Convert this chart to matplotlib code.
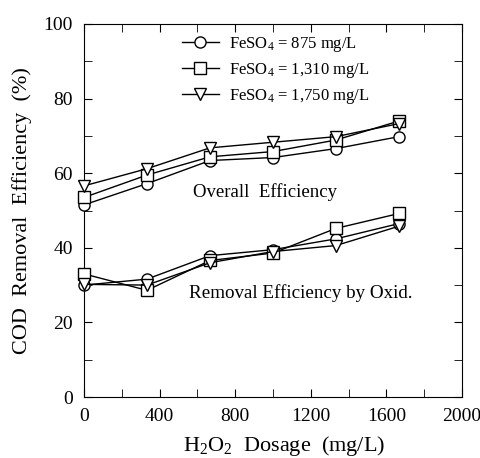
import matplotlib
matplotlib.use('Agg')
import matplotlib.pyplot as plt
from matplotlib.ticker import MultipleLocator

# Data
dosage = [0, 333, 667, 1000, 1333, 1667]

overall_875 = [51.5, 57.2, 63.4, 64.2, 66.6, 69.8]
overall_1310 = [53.5, 59.5, 64.4, 65.8, 68.9, 74.0]
overall_1750 = [56.6, 61.2, 66.8, 68.3, 69.8, 73.3]

oxid_875 = [30.0, 31.6, 37.9, 39.5, 42.4, 46.5]
oxid_1310 = [33.0, 28.6, 36.6, 38.6, 45.2, 49.2]
oxid_1750 = [30.2, 30.0, 36.0, 39.0, 40.6, 45.8]

labels = ['FeSO$_4$ = 875 mg/L', 'FeSO$_4$ = 1,310 mg/L', 'FeSO$_4$ = 1,750 mg/L']
markers = ['o', 's', 'v']

plt.rcParams['font.family'] = 'Liberation Serif'
plt.rcParams['mathtext.fontset'] = 'custom'
plt.rcParams['mathtext.rm'] = 'Liberation Serif'
plt.rcParams['mathtext.it'] = 'Liberation Serif:italic'

fig = plt.figure(figsize=(4.81, 4.58), dpi=100)
ax = fig.add_axes([84 / 481, 1 - 397 / 458, 378 / 481, 373 / 458])

overall = [overall_875, overall_1310, overall_1750]
oxid = [oxid_875, oxid_1310, oxid_1750]
for ys, m, lab in zip(overall, markers, labels):
    ax.plot(dosage, ys, color='black', lw=1.0, marker=m, ms=8, mfc='white',
            mec='black', mew=1.0, label=lab, clip_on=False, zorder=3)
for ys, m in zip(oxid, markers):
    ax.plot(dosage, ys, color='black', lw=1.0, marker=m, ms=8, mfc='white',
            mec='black', mew=1.0, clip_on=False, zorder=3)

ax.set_xlim(0, 2000)
ax.set_ylim(0, 100)
ax.xaxis.set_major_locator(MultipleLocator(400))
ax.xaxis.set_minor_locator(MultipleLocator(200))
ax.yaxis.set_major_locator(MultipleLocator(20))
ax.yaxis.set_minor_locator(MultipleLocator(10))
ax.tick_params(which='both', direction='in', top=True, right=True, labelsize=14)
ax.tick_params(which='both', length=6)
ax.tick_params(axis='x', pad=8)
ax.tick_params(axis='y', pad=8)

ax.set_xlabel('H$_2$O$_2$  Dosage  (mg/L)', fontsize=16, labelpad=5)
ax.xaxis.set_label_coords(0.53, -0.1)
ax.set_ylabel('COD  Removal  Efficiency  (%)', fontsize=16, labelpad=8)

ax.text(958, 55, 'Overall  Efficiency', fontsize=13.5, ha='center', va='center')
ax.text(1148, 27.9, 'Removal Efficiency by Oxid.', fontsize=13.7, ha='center', va='center')

ax.legend(loc='upper left', bbox_to_anchor=(0.22, 1.01), frameon=False, fontsize=12,
          handlelength=2.2, handletextpad=0.6, labelspacing=0.42)

fig.savefig('out.png', dpi=100)
